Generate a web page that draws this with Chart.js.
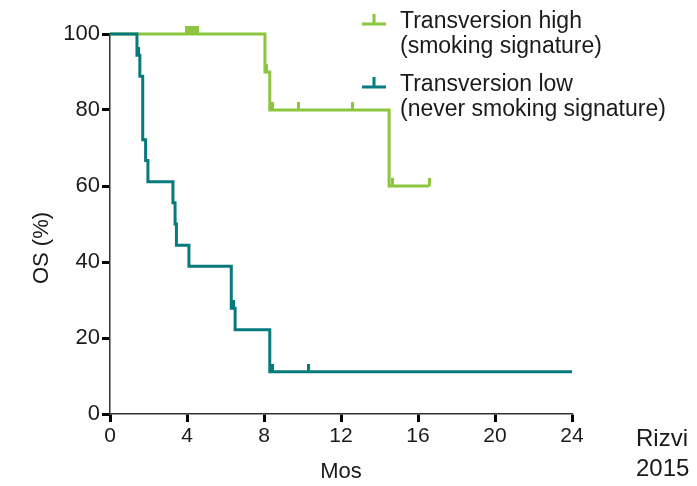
<!DOCTYPE html>
<html>
<head>
<meta charset="utf-8">
<script src="https://cdn.jsdelivr.net/npm/chart.js@4"></script>
<style>
  html, body { margin: 0; padding: 0; background: #fff; }
  #wrap { width: 697px; height: 486px; }
</style>
</head>
<body>
<div id="wrap"><canvas id="osChart" width="697" height="486"></canvas></div>
<script>
// months axis / OS axis
const xTicks = [0, 4, 8, 12, 16, 20, 24];
const yTicks = [0, 20, 40, 60, 80, 100];

// Transversion high (smoking signature)
const highTimes = [0, 8.05, 8.3, 14.5, 16.6];
const highSurv = [100, 90, 80, 60, 60];
const highCensorTimes = [3.95, 4.08, 4.21, 4.34, 4.47, 4.55, 8.15, 8.45, 9.8, 12.6, 14.65, 16.6];
const highCensorSurv = [100, 100, 100, 100, 100, 100, 90, 80, 80, 80, 60, 60];

// Transversion low (never smoking signature)
const lowTimes = [0, 1.4, 1.55, 1.7, 1.85, 1.97, 3.27, 3.38, 3.45, 4.1, 6.3, 6.5, 8.3, 24];
const lowSurv = [100, 94.4, 88.9, 72.2, 66.7, 61.1, 55.6, 50, 44.4, 38.9, 27.8, 22.2, 11.1, 11.1];
const lowCensorTimes = [1.47, 6.4, 8.45, 10.3];
const lowCensorSurv = [94.4, 27.8, 11.1, 11.1];

const seriesNames = [
  ["Transversion high", "(smoking signature)"],
  ["Transversion low", "(never smoking signature)"],
];
const seriesColors = ["#8cc63f", "#067a7c"];
const credit = ["Rizvi", "2015"];

const FONT = "'Liberation Sans', Arial, sans-serif";

// censor mark: short vertical stroke rising from the point
function censorMark(color) {
  const c = document.createElement("canvas");
  c.width = 3;
  c.height = 16;
  const g = c.getContext("2d");
  g.fillStyle = color;
  g.fillRect(0, 0, 3, 8);
  return c;
}

const toPts = (xs, ys) => xs.map((x, i) => ({ x: x, y: ys[i] }));

/* =========================
   EXTRA TEXT – legend, y title, credit
========================= */
const extras = {
  id: "extras",
  afterDraw(chart) {
    const ctx = chart.ctx;
    ctx.save();

    // legend
    const rows = [24, 87];
    seriesNames.forEach((lines, i) => {
      const y = rows[i];
      ctx.strokeStyle = seriesColors[i];
      ctx.lineWidth = 3;
      ctx.beginPath();
      ctx.moveTo(362, y);
      ctx.lineTo(386, y);
      ctx.moveTo(374, y);
      ctx.lineTo(374, y - 10);
      ctx.stroke();

      ctx.fillStyle = "#1a1a1a";
      ctx.font = "23px " + FONT;
      ctx.textAlign = "left";
      ctx.textBaseline = "alphabetic";
      lines.forEach((t, j) => ctx.fillText(t, 400, y + 4 + j * 25));
    });

    // y title
    ctx.save();
    ctx.translate(42, 248);
    ctx.rotate(-Math.PI / 2);
    ctx.font = "22px " + FONT;
    ctx.textAlign = "center";
    ctx.textBaseline = "middle";
    ctx.fillStyle = "#1a1a1a";
    ctx.fillText("OS (%)", 0, 0);
    ctx.restore();

    // credit
    ctx.font = "24px " + FONT;
    ctx.textAlign = "left";
    ctx.textBaseline = "middle";
    ctx.fillStyle = "#1a1a1a";
    ctx.fillText(credit[0], 636, 439);
    ctx.fillText(credit[1], 636, 469);

    ctx.restore();
  },
};

const axisCommon = {
  type: "linear",
  grid: {
    drawOnChartArea: false,
    drawTicks: true,
    tickLength: 8,
    tickWidth: 3,
    tickColor: "#000",
  },
  border: { display: true, color: "#333", width: 1.5 },
};

new Chart(document.getElementById("osChart"), {
  type: "line",
  data: {
    datasets: [
      {
        data: toPts(highTimes, highSurv),
        borderColor: seriesColors[0],
        borderWidth: 3,
        stepped: true,
        pointRadius: 0,
        fill: false,
        clip: false,
        order: 2,
      },
      {
        data: toPts(lowTimes, lowSurv),
        borderColor: seriesColors[1],
        borderWidth: 3,
        stepped: true,
        pointRadius: 0,
        fill: false,
        clip: false,
        order: 1,
      },
      {
        data: toPts(highCensorTimes, highCensorSurv),
        showLine: false,
        pointStyle: censorMark(seriesColors[0]),
        pointRadius: 4,
        clip: false,
        order: 3,
      },
      {
        data: toPts(lowCensorTimes, lowCensorSurv),
        showLine: false,
        pointStyle: censorMark(seriesColors[1]),
        pointRadius: 4,
        clip: false,
        order: 0,
      },
    ],
  },
  options: {
    responsive: false,
    animation: false,
    devicePixelRatio: 1,
    layout: { padding: { top: 34, right: 125, bottom: 0, left: 0 } },
    plugins: { legend: { display: false }, tooltip: { enabled: false } },
    scales: {
      x: {
        ...axisCommon,
        min: 0,
        max: 24,
        afterBuildTicks: (s) => { s.ticks = xTicks.map((v) => ({ value: v })); },
        afterFit: (s) => { s.height = 72; },
        ticks: { color: "#1a1a1a", padding: 2, font: { family: FONT, size: 21 } },
        title: {
          display: true,
          text: "Mos",
          color: "#1a1a1a",
          font: { family: FONT, size: 22 },
          padding: { top: 0, bottom: 1 },
        },
      },
      y: {
        ...axisCommon,
        min: 0,
        max: 100,
        afterBuildTicks: (s) => { s.ticks = yTicks.map((v) => ({ value: v })); },
        afterFit: (s) => { s.width = 110; },
        ticks: { color: "#1a1a1a", padding: 2, font: { family: FONT, size: 22 } },
      },
    },
  },
  plugins: [extras],
});
</script>
</body>
</html>
